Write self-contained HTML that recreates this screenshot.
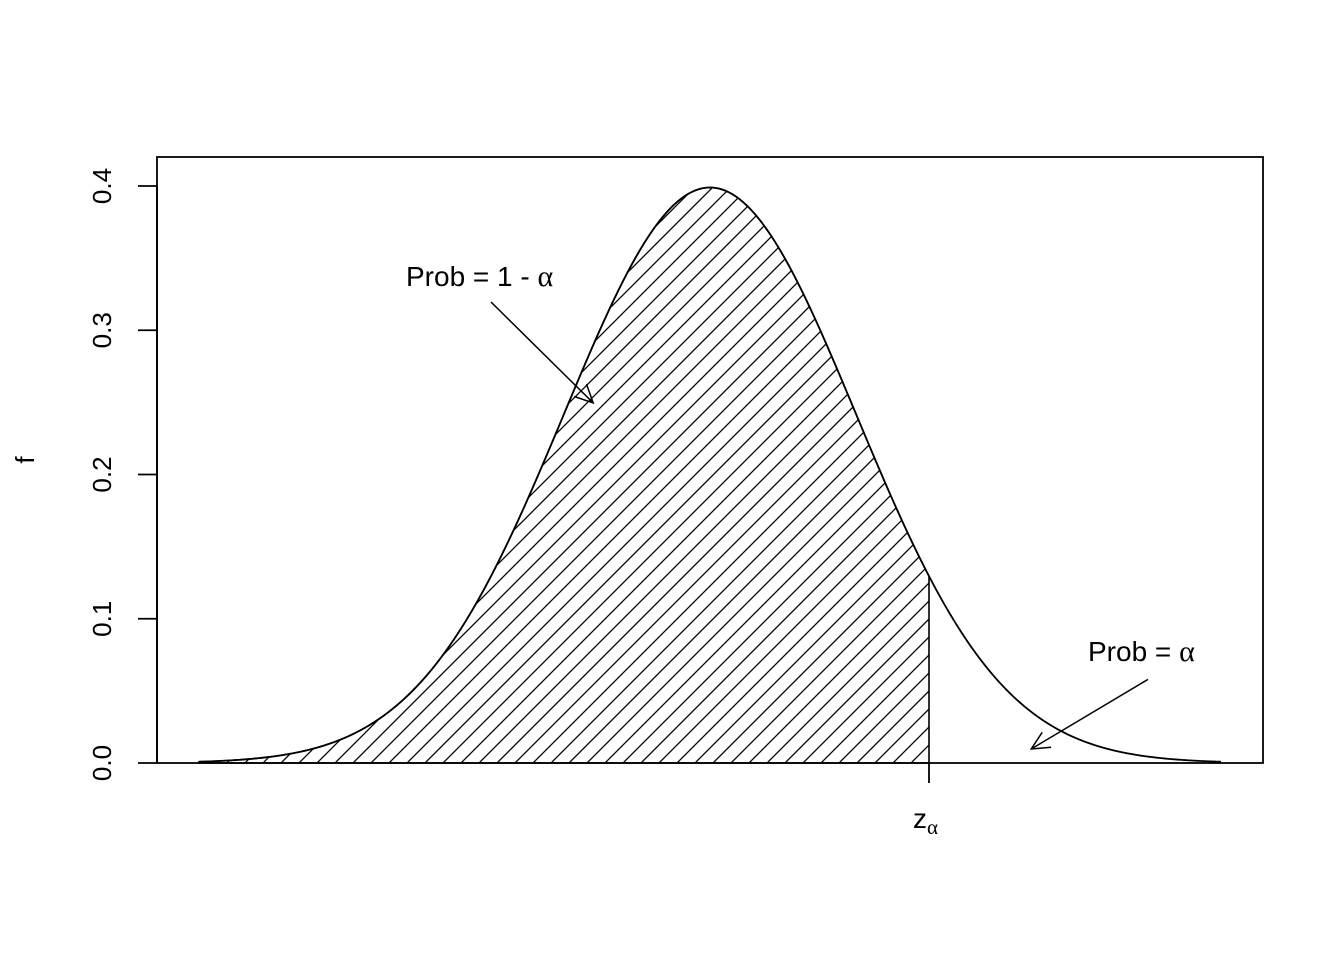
<!DOCTYPE html>
<html><head><meta charset="utf-8"><style>body{margin:0;background:#fff}svg{display:block;font-family:"Liberation Sans",sans-serif}</style></head>
<body>
<svg id="chart" width="1344" height="960" viewBox="0 0 1344 960">
<defs>
<pattern id="hatch" patternUnits="userSpaceOnUse" width="18" height="18">
<path d="M-1,19 L19,-1 M-10,10 L10,-10 M8,28 L28,8" stroke="#000" stroke-width="1.3"/>
</pattern>
</defs>
<rect x="157" y="157" width="1106" height="606" fill="none" stroke="#000" stroke-width="1.8"/>
<g id="yaxis"></g>
<g id="marks"></g>
<text transform="translate(34,460) rotate(-90)" font-size="26" text-anchor="middle">f</text>
<text x="406" y="286" font-size="28">Prob = 1 - <tspan font-family="Liberation Serif, serif" font-size="30">α</tspan></text>
<text x="1088" y="661" font-size="28">Prob = <tspan font-family="Liberation Serif, serif" font-size="30">α</tspan></text>
<text x="913" y="828" font-size="28">z<tspan font-family="Liberation Serif, serif" font-size="21" dy="6">α</tspan></text>
</svg>
<script>
const yTicks=[0,0.1,0.2,0.3,0.4];
const yTickLabels=["0.0","0.1","0.2","0.3","0.4"];
const xRange=[-3.5,3.5];
const zAlpha=[1.5];
const arrows=[[-1.5,0.3196,-0.8,0.2496],[3.0,0.058,2.2,0.0097]];
const sx=x=>199+(x-xRange[0])*(1022/(xRange[1]-xRange[0]));
const sy=y=>763-y*1442.5;
const dn=x=>Math.exp(-x*x/2)/Math.sqrt(2*Math.PI);
const NS="http://www.w3.org/2000/svg";
function mk(t,a,p){const e=document.createElementNS(NS,t);for(const k in a)e.setAttribute(k,a[k]);p.appendChild(e);return e;}
const ya=document.getElementById('yaxis'),m=document.getElementById('marks');
let l=mk('line',{x1:157,x2:157,y1:sy(yTicks[0]),y2:sy(yTicks[yTicks.length-1]),stroke:'#000','stroke-width':1.8},ya);
yTicks.forEach((t,i)=>{
 let tk=mk('line',{x1:138,x2:157,y1:sy(t),y2:sy(t),stroke:'#000','stroke-width':1.8},ya);
 
 
 let tx=mk('text',{transform:`translate(111,${sy(t)}) rotate(-90)`,'font-size':26,'text-anchor':'middle'},ya);
 
 
 tx.textContent=yTickLabels[i];
});
const z=zAlpha[0];
let d=`M${sx(xRange[0])},${sy(0)}`;
for(let x=xRange[0];x<=z+1e-9;x+=0.01)d+=` L${sx(x).toFixed(2)},${sy(dn(x)).toFixed(2)}`;
d+=` L${sx(z)},${sy(dn(z))} L${sx(z)},${sy(0)} Z`;
let area=mk('path',{d:d,fill:'url(#hatch)',stroke:'#000','stroke-width':1.6},m);


let c='';
for(let x=xRange[0];x<=xRange[1]+1e-9;x+=0.01)c+=(c?' L':'M')+sx(x).toFixed(2)+','+sy(dn(x)).toFixed(2);
let curve=mk('path',{d:c,fill:'none',stroke:'#000','stroke-width':1.8},m);


let zt=mk('line',{x1:sx(z),x2:sx(z),y1:sy(0),y2:783,stroke:'#000','stroke-width':1.8},m);


arrows.forEach(a=>{
 const x1=sx(a[0]),y1=sy(a[1]),x2=sx(a[2]),y2=sy(a[3]);
 const ang=Math.atan2(y2-y1,x2-x1),L=20,w=0.45;
 const p=`M${x1},${y1} L${x2},${y2} M${x2-L*Math.cos(ang-w)},${y2-L*Math.sin(ang-w)} L${x2},${y2} L${x2-L*Math.cos(ang+w)},${y2-L*Math.sin(ang+w)}`;
 let ar=mk('path',{d:p,fill:'none',stroke:'#000','stroke-width':1.5},m);
 
 
});
</script>
</body></html>
